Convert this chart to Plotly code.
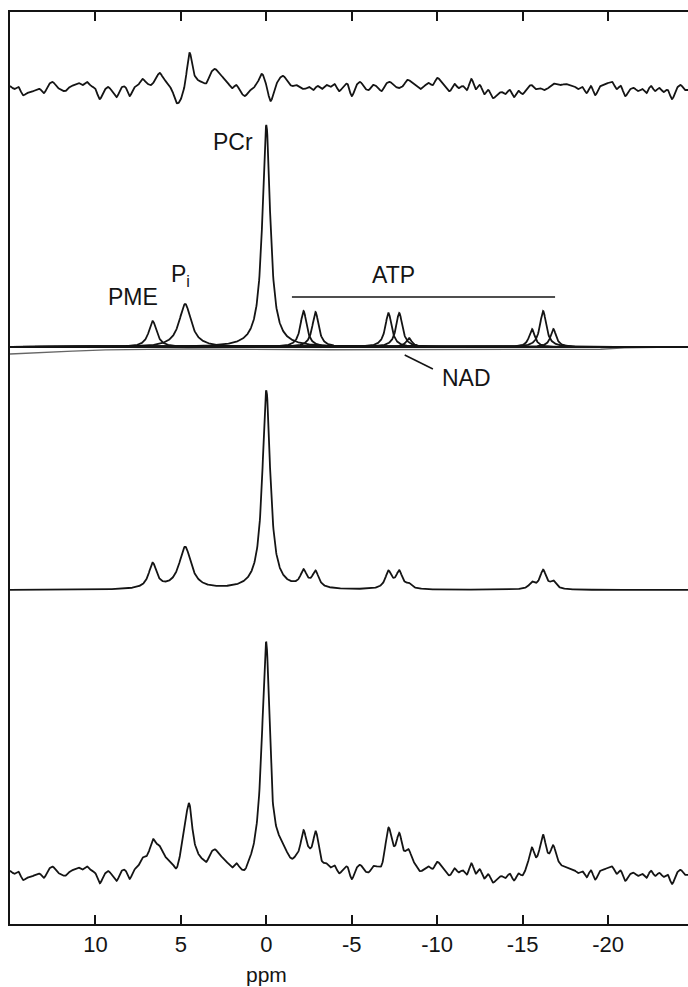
import numpy as np
import plotly.graph_objects as go

# ---------------- data ----------------
# fitted spectral components: position (ppm), height, full width at half max (ppm)
peak_names = ["PME", "Pi", "PCr", "gATP1", "gATP2", "aATP1", "aATP2", "NAD", "bATP1", "bATP2", "bATP3"]
peak_ppm = [6.65, 4.75, 0.0, -2.18, -2.88, -7.15, -7.78, -8.35, -15.55, -16.2, -16.8]
peak_height = [26, 43, 222, 36, 35, 34, 34, 9, 18, 36, 18]
peak_fwhm = [0.55, 0.85, 0.55, 0.45, 0.45, 0.45, 0.45, 0.4, 0.4, 0.45, 0.4]
# heights of the same lines in the fitted spectrum (middle trace)
fit_height = [25, 42, 199, 16, 16, 17, 17, 4, 6, 19, 7]

# broad baseline component (ppm, value)
baseline_ppm = [15.0, 10.0, 5.0, 0.0, -5.0, -19.0, -20.5, -24.7]
baseline_val = [-7, -3, -2, -2, -3, -3, -1, 0]

# residual (data - fit), sampled every 0.25 ppm from 15 to -24.5
residual_ppm = np.linspace(15.0, -24.5, 159)
residual = [
    2, -1, 1, -7, -5, -4, -2, -1, -5, 3, 6, 1, -2, -3, 1, 3, 5, 3, 6, 2,
    -1, -11, -3, 1, -4, -9, 0, 1, -8, 0, 3, 9, 5, 3, 8, 15, 9, 4, -3, -15,
    -11, 5, 35, 15, 8, 6, 5, 15, 19, 14, 10, 5, 0, 3, -4, -8, -3, 0, 6, 14,
    3, -13, 0, 9, 12, 6, 2, 3, 0, -1, 1, -2, 2, -1, 3, 1, 4, -3, 1, 4,
    -8, 2, 6, 0, -2, 3, 1, -3, 4, 6, 2, 0, 2, 8, 6, 3, -1, 2, 5, 3,
    10, 6, 0, -3, 4, 0, 2, -2, 9, -1, 3, -6, -2, -10, -7, -4, -6, -2, -9, -3,
    -6, -1, 3, -1, 0, -2, 0, 4, 4, 3, 4, 3, 2, -1, 1, -5, 2, -7, 1, 3,
    5, 6, -1, 2, -8, -2, 0, -3, -1, -5, 2, -3, 0, -4, -2, -11, -1, 3, -2,
]
assert len(residual) == len(residual_ppm)

data_scale = 1.02

x_tickvals = [10, 5, 0, -5, -10, -15, -20]
x_ticktext = ["10", "5", "0", "-5", "-10", "-15", "-20"]
atp_span = (-1.5, -16.9)

# ---------------- layout constants ----------------
W, H = 688, 987
ML, MR, MT, MB = 10, 0, 12, 63
PLOT_H = H - MT - MB
X_RANGE = [15.0, -24.68]
OFF_RES, OFF_COMP, OFF_FIT, OFF_DATA = 836, 577, 334, 51
INK = "#141414"
LINE = dict(color=INK, width=1.8)

grid = np.arange(15.0, -24.69, -0.02)


def lorentz(x, c, h, fw):
    hw = fw / 2.0
    return h * hw ** 2 / ((x - c) ** 2 + hw ** 2)


def smooth_resample(xs, r, x0, step):
    """Catmull-Rom curve through the sampled residual (for drawing only)."""
    r = np.asarray(r, float)
    n = len(r)
    t = np.clip((x0 - xs) / step, 0, n - 1 - 1e-9)
    i = np.floor(t).astype(int)
    u = t - i
    p0 = r[np.clip(i - 1, 0, n - 1)]
    p1 = r[i]
    p2 = r[np.clip(i + 1, 0, n - 1)]
    p3 = r[np.clip(i + 2, 0, n - 1)]
    return 0.5 * (2 * p1 + (-p0 + p2) * u + (2 * p0 - 5 * p1 + 4 * p2 - p3) * u ** 2
                  + (-p0 + 3 * p1 - 3 * p2 + p3) * u ** 3)


comps = [lorentz(grid, c, h, w) for c, h, w in zip(peak_ppm, peak_height, peak_fwhm)]
total = np.sum(comps, axis=0)
fit = np.sum([lorentz(grid, c, h, w) for c, h, w in zip(peak_ppm, fit_height, peak_fwhm)], axis=0)
base = np.interp(grid[::-1], baseline_ppm[::-1], baseline_val[::-1])[::-1]
res_dense = smooth_resample(grid, residual, 15.0, 0.25)

fig = go.Figure()
# residual
fig.add_trace(go.Scatter(x=grid, y=res_dense + OFF_RES, mode="lines", line=LINE))
# components
fig.add_trace(go.Scatter(x=grid, y=base + OFF_COMP, mode="lines", line=dict(color="#666", width=1.3)))
for c in comps:
    fig.add_trace(go.Scatter(x=grid, y=c + OFF_COMP, mode="lines", line=LINE))
# fit
fig.add_trace(go.Scatter(x=grid, y=fit + OFF_FIT, mode="lines", line=LINE))
# data
fig.add_trace(go.Scatter(x=grid, y=total * data_scale + res_dense + OFF_DATA, mode="lines", line=LINE))

# ATP bracket
fig.add_shape(type="line", x0=atp_span[0], x1=atp_span[1], y0=627, y1=627,
              xref="x", yref="y", line=dict(color=INK, width=1.5))
# NAD pointer
fig.add_shape(type="line", x0=-8.1, x1=-9.75, y0=569, y1=555,
              xref="x", yref="y", line=dict(color=INK, width=1.5))

lab_font = dict(family="Liberation Sans, Arial, sans-serif", size=23, color=INK)
for txt, x, y in [("PCr", 1.93, 782), ("PME", 7.78, 627), ("P<sub>i</sub>", 5.0, 649),
                  ("ATP", -7.45, 649), ("NAD", -11.7, 546)]:
    fig.add_annotation(text=txt, x=x, y=y, xref="x", yref="y", showarrow=False, font=lab_font)

# axis title
fig.add_annotation(text="ppm", x=0.0, y=(924 - 974) / PLOT_H, xref="x", yref="paper",
                   showarrow=False, yanchor="middle",
                   font=dict(family="Liberation Sans Narrow, Liberation Sans, Arial", size=21, color=INK))

fig.update_layout(
    width=W, height=H, margin=dict(l=ML, r=MR, t=MT, b=MB),
    paper_bgcolor="white", plot_bgcolor="white", showlegend=False,
    xaxis=dict(range=X_RANGE, tickvals=x_tickvals, ticktext=x_ticktext, ticks="inside",
               ticklen=9, tickwidth=1.5, tickcolor=INK, showline=True, linewidth=2,
               linecolor=INK, mirror="ticks", showgrid=False, zeroline=False,
               tickfont=dict(family="Liberation Sans Narrow, Liberation Sans, Arial", size=22, color=INK)),
    yaxis=dict(range=[0, PLOT_H], showline=True, linewidth=2, linecolor=INK, mirror=False,
               showticklabels=False, ticks="", showgrid=False, zeroline=False),
)

fig.write_html("out.html")
